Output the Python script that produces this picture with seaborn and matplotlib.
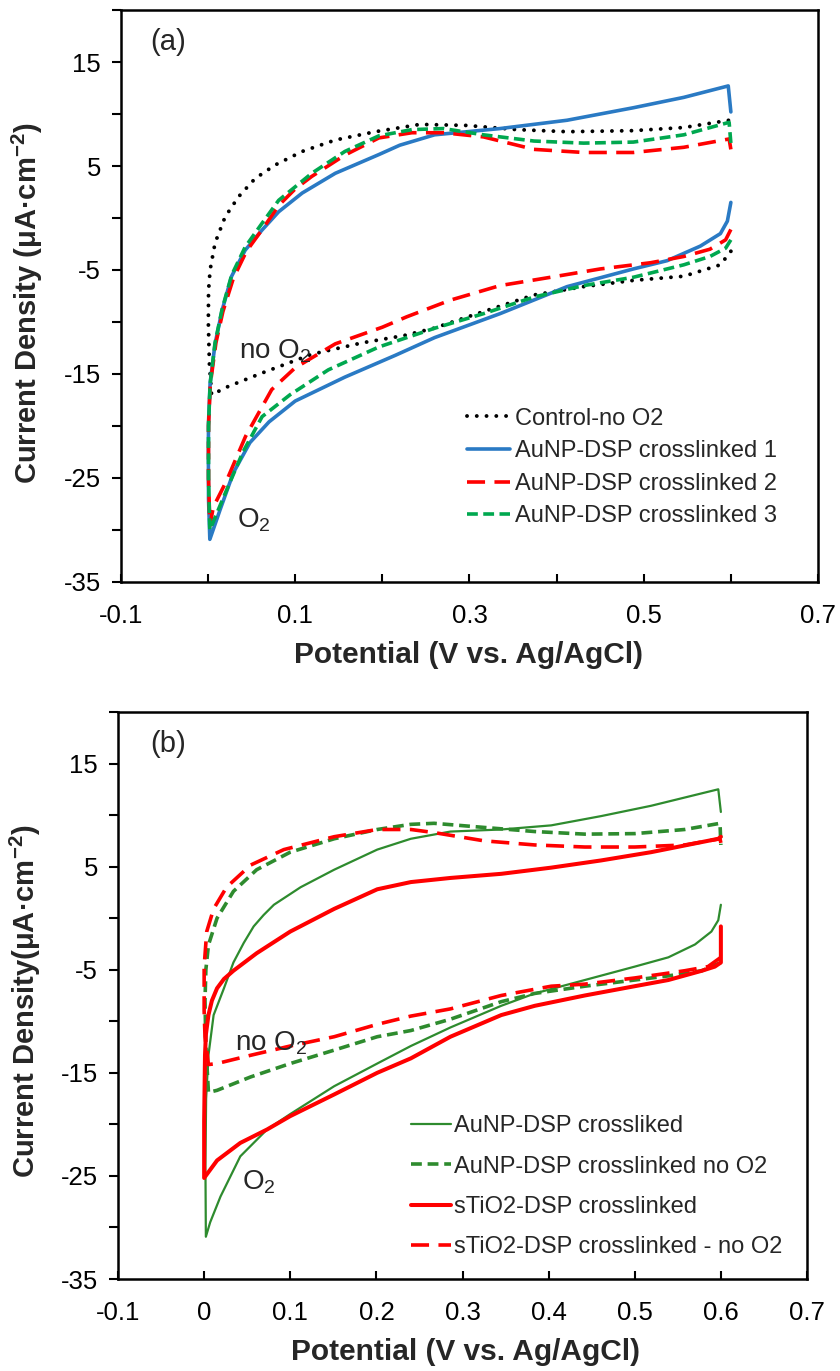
import numpy as np
import matplotlib
matplotlib.use("Agg")
import matplotlib.pyplot as plt
import seaborn as sns

# ---------------- Panel (a): AuNP-DSP crosslinked films vs. control ----------------
# each voltammogram: return (cathodic) branch 0.6 -> 0 V, then forward branch 0 -> 0.6 V
ctrl_lo_x = [0.600, 0.588, 0.546, 0.488, 0.431, 0.374, 0.316, 0.259, 0.225, 0.177, 0.119, 0.062, 0.023, 0.004]
ctrl_lo_y = [-3.2, -4.5, -5.6, -6.0, -6.6, -7.4, -9.0, -10.6, -11.3, -12.0, -13.1, -14.9, -16.2, -17.0]
ctrl_up_x = [0.004, 0.0015, 0.0003, 0.0005, 0.0023, 0.008, 0.0195, 0.035, 0.054, 0.077, 0.108, 0.146,
             0.192, 0.243, 0.297, 0.354, 0.412, 0.488, 0.546, 0.598, 0.600]
ctrl_up_y = [-17.0, -14.0, -10.1, -7.0, -5.0, -2.4, 0.1, 2.05, 3.8, 5.1, 6.4, 7.5,
             8.3, 9.0, 8.9, 8.5, 8.3, 8.4, 8.7, 9.4, 8.6]

au1_lo_x = [0.600, 0.596, 0.588, 0.565, 0.527, 0.488, 0.412, 0.335, 0.260, 0.215, 0.157, 0.100,
            0.070, 0.048, 0.029, 0.014, 0.002]
au1_lo_y = [1.5, -0.3, -1.5, -2.7, -4.1, -4.9, -6.6, -9.2, -11.5, -13.2, -15.3, -17.6,
            -19.6, -21.6, -24.5, -28.0, -30.9]
au1_up_x = [0.002, 0.0005, 0.0003, 0.0005, 0.0023, 0.008, 0.016, 0.027, 0.0425, 0.062, 0.081, 0.108,
            0.146, 0.196, 0.220, 0.260, 0.335, 0.412, 0.488, 0.546, 0.597, 0.600]
au1_up_y = [-30.9, -27.0, -22.0, -19.7, -15.9, -12.1, -8.9, -5.6, -3.1, -1.15, 0.6, 2.4,
            4.3, 6.1, 7.0, 8.0, 8.6, 9.4, 10.6, 11.6, 12.7, 10.2]

au2_lo_x = [0.600, 0.594, 0.576, 0.546, 0.508, 0.450, 0.393, 0.335, 0.278, 0.228, 0.200, 0.146,
            0.100, 0.073, 0.043, 0.021, 0.006, 0.002]
au2_lo_y = [-1.1, -2.1, -3.0, -3.7, -4.3, -4.9, -5.7, -6.5, -7.9, -9.5, -10.5, -12.1,
            -14.4, -16.5, -21.0, -25.3, -27.8, -29.6]
au2_up_x = [0.002, 0.0005, 0.0005, 0.0025, 0.009, 0.017, 0.029, 0.044, 0.063, 0.081, 0.100, 0.119,
            0.157, 0.196, 0.234, 0.270, 0.316, 0.374, 0.431, 0.488, 0.546, 0.598, 0.600]
au2_up_y = [-29.6, -25.0, -20.0, -16.0, -12.0, -9.0, -5.8, -3.2, -1.0, 1.2, 2.8, 4.0,
            6.05, 7.7, 8.2, 8.2, 7.8, 6.6, 6.3, 6.3, 6.8, 7.6, 6.6]

au3_lo_x = [0.600, 0.594, 0.576, 0.546, 0.488, 0.431, 0.374, 0.316, 0.260, 0.196, 0.138, 0.094,
            0.062, 0.040, 0.018, 0.002]
au3_lo_y = [-2.1, -2.9, -3.7, -4.5, -5.7, -6.5, -7.6, -9.2, -10.6, -12.4, -14.6, -17.0,
            -19.1, -22.5, -26.8, -30.0]
au3_up_x = [0.002, 0.0005, 0.0005, 0.0023, 0.008, 0.016, 0.027, 0.0425, 0.062, 0.081, 0.119, 0.157,
            0.196, 0.234, 0.270, 0.316, 0.374, 0.431, 0.488, 0.546, 0.598, 0.600]
au3_up_y = [-30.0, -25.0, -20.0, -16.0, -12.0, -8.8, -5.5, -2.8, -0.5, 1.7, 4.3, 6.4,
            7.9, 8.5, 8.6, 8.0, 7.4, 7.2, 7.3, 8.0, 9.2, 7.2]

labels_a = ["Control-no O2", "AuNP-DSP crosslinked 1", "AuNP-DSP crosslinked 2", "AuNP-DSP crosslinked 3"]

# ---------------- Panel (b): AuNP-DSP vs. sTiO2-DSP, with and without O2 ----------------
gs_lo_x = [0.600, 0.597, 0.589, 0.570, 0.539, 0.500, 0.442, 0.384, 0.345, 0.286, 0.240, 0.201,
           0.151, 0.100, 0.073, 0.042, 0.019, 0.007, 0.002]
gs_lo_y = [1.3, -0.2, -1.3, -2.55, -3.8, -4.7, -6.0, -7.3, -8.5, -10.6, -12.4, -14.1,
           -16.3, -19.0, -20.5, -23.1, -27.0, -29.5, -30.9]
gs_up_x = [0.002, 0.0015, 0.0023, 0.005, 0.011, 0.023, 0.034, 0.046, 0.0575, 0.069, 0.081, 0.112,
           0.151, 0.201, 0.240, 0.286, 0.345, 0.403, 0.461, 0.519, 0.597, 0.600]
gs_up_y = [-30.9, -24.0, -17.5, -13.3, -9.4, -6.8, -4.3, -2.4, -0.8, 0.3, 1.3, 3.0,
           4.7, 6.65, 7.7, 8.4, 8.6, 9.0, 9.9, 10.9, 12.5, 10.3]

gd_lo_x = [0.600, 0.578, 0.539, 0.500, 0.442, 0.384, 0.345, 0.286, 0.240, 0.201, 0.151, 0.100,
           0.054, 0.015, 0.005]
gd_lo_y = [-4.3, -5.1, -5.6, -6.0, -6.6, -7.3, -8.1, -9.8, -10.9, -11.5, -12.8, -14.1,
           -15.4, -16.7, -16.9]
gd_up_x = [0.005, 0.002, 0.001, 0.002, 0.005, 0.015, 0.034, 0.061, 0.100, 0.151, 0.201, 0.240,
           0.267, 0.325, 0.384, 0.442, 0.500, 0.558, 0.599, 0.600]
gd_up_y = [-16.9, -12.4, -8.0, -5.0, -2.6, 0.0, 2.6, 4.7, 6.4, 7.7, 8.6, 9.1,
           9.2, 8.8, 8.4, 8.15, 8.2, 8.6, 9.2, 7.1]

rs_lo_x = [0.600, 0.600, 0.593, 0.578, 0.539, 0.500, 0.442, 0.384, 0.345, 0.286, 0.240, 0.201,
           0.151, 0.100, 0.073, 0.042, 0.015, 0.000]
rs_lo_y = [-0.8, -4.3, -4.7, -5.1, -6.0, -6.6, -7.5, -8.5, -9.4, -11.5, -13.6, -15.0,
           -17.1, -19.2, -20.5, -21.8, -23.5, -25.2]
rs_up_x = [0.000, 0.000, 0.001, 0.002, 0.005, 0.009, 0.015, 0.023, 0.034, 0.061, 0.100, 0.151,
           0.201, 0.240, 0.286, 0.345, 0.403, 0.461, 0.519, 0.597, 0.600]
rs_up_y = [-25.2, -19.7, -13.3, -11.3, -9.4, -8.0, -6.8, -5.9, -5.1, -3.4, -1.3, 0.9,
           2.8, 3.5, 3.9, 4.3, 4.9, 5.6, 6.4, 7.7, 7.9]

rd_lo_x = [0.600, 0.585, 0.558, 0.500, 0.442, 0.403, 0.345, 0.286, 0.240, 0.201, 0.151, 0.100,
           0.054, 0.015, 0.005]
rd_lo_y = [-3.8, -4.7, -5.1, -5.8, -6.4, -6.6, -7.5, -8.8, -9.5, -10.3, -11.5, -12.4,
           -13.3, -14.1, -14.2]
rd_up_x = [0.005, 0.001, 0.000, 0.000, 0.003, 0.011, 0.026, 0.054, 0.0925, 0.151, 0.201, 0.240,
           0.267, 0.325, 0.384, 0.442, 0.500, 0.558, 0.599, 0.600]
rd_up_y = [-14.2, -11.5, -9.0, -4.7, -1.3, 0.9, 3.0, 5.15, 6.65, 7.9, 8.6, 8.6,
           8.3, 7.5, 7.1, 6.9, 6.9, 7.1, 7.7, 7.3]

labels_b = ["AuNP-DSP crossliked", "AuNP-DSP crosslinked no O2", "sTiO2-DSP crosslinked",
            "sTiO2-DSP crosslinked - no O2"]

# axis ticks
y_major = [-35, -25, -15, -5, 5, 15]
y_major_labels = ["-35", "-25", "-15", "-5", "5", "15"]
y_minor = [-30, -20, -10, 0, 10, 20]
xa_major = [-0.1, 0.1, 0.3, 0.5, 0.7]
xa_major_labels = ["-0.1", "0.1", "0.3", "0.5", "0.7"]
xa_minor = [0.0, 0.2, 0.4, 0.6]
xb_major = [-0.1, 0.0, 0.1, 0.2, 0.3, 0.4, 0.5, 0.6, 0.7]
xb_major_labels = ["-0.1", "0", "0.1", "0.2", "0.3", "0.4", "0.5", "0.6", "0.7"]

# ---------------- style ----------------
sns.set_theme(style="ticks")
plt.rcParams["font.family"] = ["Liberation Sans", "DejaVu Sans"]
plt.rcParams["mathtext.fontset"] = "custom"
plt.rcParams["mathtext.rm"] = "Liberation Sans"
plt.rcParams["mathtext.it"] = "Liberation Sans:italic"
plt.rcParams["mathtext.bf"] = "Liberation Sans:bold"
plt.rcParams["axes.unicode_minus"] = False

BLUE = "#2A7AC4"
RED = "#FF0000"
GREEN_A = "#00A84F"
GREEN_B = "#2E8B2E"

fig = plt.figure(figsize=(8.4, 13.71), dpi=100)
ax_a = fig.add_axes([0.1440, 0.5755, 0.8298, 0.4172])
ax_b = fig.add_axes([0.1405, 0.0671, 0.8202, 0.4136])


def draw_cv(ax, lo_x, lo_y, up_x, up_y, **kw):
    x = np.r_[lo_x, up_x]
    y = np.r_[lo_y, up_y]
    sns.lineplot(x=x, y=y, sort=False, estimator=None, ax=ax, **kw)


# panel (a)
draw_cv(ax_a, ctrl_lo_x, ctrl_lo_y, ctrl_up_x, ctrl_up_y, color="black", lw=2.8,
        linestyle=(0, (0.01, 2.5)), dash_capstyle="round", label=labels_a[0])
draw_cv(ax_a, au1_lo_x, au1_lo_y, au1_up_x, au1_up_y, color=BLUE, lw=2.6,
        linestyle="-", label=labels_a[1])
draw_cv(ax_a, au2_lo_x, au2_lo_y, au2_up_x, au2_up_y, color=RED, lw=2.6,
        linestyle=(0, (5.0, 2.6)), label=labels_a[2])
draw_cv(ax_a, au3_lo_x, au3_lo_y, au3_up_x, au3_up_y, color=GREEN_A, lw=2.6,
        linestyle=(0, (3.0, 1.5)), label=labels_a[3])

# panel (b)
draw_cv(ax_b, gs_lo_x, gs_lo_y, gs_up_x, gs_up_y, color=GREEN_B, lw=1.6,
        linestyle="-", label=labels_b[0])
draw_cv(ax_b, gd_lo_x, gd_lo_y, gd_up_x, gd_up_y, color=GREEN_B, lw=2.6,
        linestyle=(0, (3.0, 1.6)), label=labels_b[1])
draw_cv(ax_b, rs_lo_x, rs_lo_y, rs_up_x, rs_up_y, color=RED, lw=2.9,
        linestyle="-", label=labels_b[2])
draw_cv(ax_b, rd_lo_x, rd_lo_y, rd_up_x, rd_up_y, color=RED, lw=2.6,
        linestyle=(0, (5.0, 2.6)), label=labels_b[3])

xlabel_font = dict(fontsize=21.5, fontweight="bold")
ylabel_font = dict(fontsize=21, fontweight="bold")
for ax, xmaj, xlab, xmin, ylab, ylc, xlc in [
    (ax_a, xa_major, xa_major_labels, xa_minor,
     r"Current Density (μA·cm$^{\mathregular{-2}}$)", (-0.134, 0.488), (0.498, -0.128)),
    (ax_b, xb_major, xb_major_labels, [],
     r"Current Density(μA·cm$^{\mathregular{-2}}$)", (-0.134, 0.489), (0.505, -0.129)),
]:
    ax.set_xlim(-0.1, 0.7)
    ax.set_ylim(-35, 20)
    ax.set_xticks(xmaj)
    ax.set_xticklabels(xlab)
    ax.set_xticks(xmin, minor=True)
    ax.set_yticks(y_major)
    ax.set_yticklabels(y_major_labels)
    ax.set_yticks(y_minor, minor=True)
    ax.tick_params(axis="y", which="both", direction="out", length=6.5, width=1.5,
                   colors="black", labelsize=18.5, pad=8, left=True, right=False)
    ax.tick_params(axis="x", which="both", direction="in", length=6, width=1.5,
                   colors="black", labelsize=18.5, pad=16, bottom=True, top=False)
    for sp in ax.spines.values():
        sp.set_visible(True)
        sp.set_color("black")
        sp.set_linewidth(1.8)
    ax.set_xlabel("Potential (V vs. Ag/AgCl)", **xlabel_font)
    ax.set_ylabel(ylab, **ylabel_font)
    ax.xaxis.set_label_coords(*xlc)
    ax.xaxis.label.set_va("center")
    ax.yaxis.set_label_coords(*ylc)
    ax.yaxis.label.set_rotation_mode("default")
    ax.yaxis.label.set_va("center")
    ax.yaxis.label.set_ha("center")
    ax.set_facecolor("white")

# panel tags and O2 annotations
ax_a.text(-0.066, 16.9, "(a)", fontsize=21, ha="left", va="center")
ax_a.text(0.035, -13.5, r"no O$_\mathregular{2}$", fontsize=20, ha="left", va="baseline")
ax_a.text(0.033, -29.8, r"O$_\mathregular{2}$", fontsize=20, ha="left", va="baseline")
ax_b.text(-0.062, 16.9, "(b)", fontsize=21, ha="left", va="center")
ax_b.text(0.036, -12.8, r"no O$_\mathregular{2}$", fontsize=20, ha="left", va="baseline")
ax_b.text(0.044, -26.3, r"O$_\mathregular{2}$", fontsize=20, ha="left", va="baseline")

ax_a.legend(loc="upper left", bbox_to_anchor=(0.497, 0.305), frameon=False, fontsize=17,
            handlelength=1.8, handletextpad=0.2, labelspacing=0.45, borderpad=0,
            borderaxespad=0)
ax_b.legend(loc="upper left", bbox_to_anchor=(0.425, 0.289), frameon=False, fontsize=17,
            handlelength=1.7, handletextpad=0.12, labelspacing=0.78, borderpad=0,
            borderaxespad=0)

fig.savefig("out.png", dpi=100, facecolor="white")
